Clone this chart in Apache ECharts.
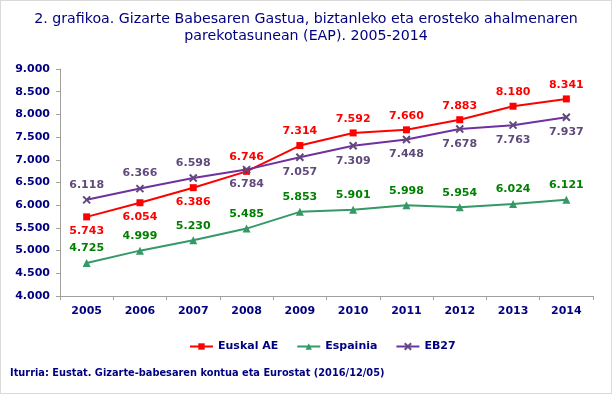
<!DOCTYPE html>
<html><head><meta charset="utf-8">
<script src="https://cdn.jsdelivr.net/npm/echarts@6/dist/echarts.min.js"></script>
<style>
html,body{margin:0;padding:0;background:#fff;}
#c{width:612px;height:394px;box-sizing:border-box;border:1px solid #d9d9d9;}
</style></head><body>
<div id="c"></div>
<script>
const years = ['2005','2006','2007','2008','2009','2010','2011','2012','2013','2014'];
const euskalAE = [5743, 6054, 6386, 6746, 7314, 7592, 7660, 7883, 8180, 8341];
const espainia = [4725, 4999, 5230, 5485, 5853, 5901, 5998, 5954, 6024, 6121];
const eb27 = [6118, 6366, 6598, 6784, 7057, 7309, 7448, 7678, 7763, 7937];
const yTicks = [4000, 4500, 5000, 5500, 6000, 6500, 7000, 7500, 8000, 8500, 9000];

const fmt = v => { const s = String(Math.round(v)); return s.length > 3 ? s.slice(0, s.length-3) + '.' + s.slice(-3) : s; };
const FONT = 'DejaVu Sans';
const navy = '#000080';

function lbl(posFn) {
  return (v, i) => ({ value: v, label: { position: posFn(i) } });
}
const ch = echarts.init(document.getElementById('c'));
ch.setOption({
  animation: false,
  title: {
    text: '2. grafikoa. Gizarte Babesaren Gastua, biztanleko eta erosteko ahalmenaren\nparekotasunean (EAP). 2005-2014',
    left: 'center', top: 5,
    textStyle: { fontFamily: FONT, fontSize: 14.2, fontWeight: 'normal', color: navy, lineHeight: 17 }
  },
  grid: { left: 59, right: 18, top: 68, bottom: 97 },
  legend: {
    bottom: 36, left: 183, itemGap: 18, itemWidth: 23, itemHeight: 8,
    textStyle: { fontFamily: FONT, fontSize: 11, fontWeight: 'bold', color: navy },
    data: ['Euskal AE', 'Espainia', 'EB27']
  },
  graphic: [{
    type: 'text', left: 9, top: 367,
    style: { text: 'Iturria: Eustat. Gizarte-babesaren kontua eta Eurostat (2016/12/05)', fontFamily: FONT, fontSize: 9.8, fontWeight: 'bold', fill: navy }
  }],
  xAxis: {
    type: 'category', data: years, boundaryGap: true,
    axisLine: { lineStyle: { color: '#a0a0a0' } },
    axisTick: { show: true, alignWithLabel: false, length: 4, lineStyle: { color: '#a0a0a0' } },
    axisLabel: { fontFamily: FONT, fontSize: 11, fontWeight: 'bold', color: navy, margin: 10 }
  },
  yAxis: {
    type: 'value', min: 4000, max: 9000, interval: 500,
    axisLine: { show: true, lineStyle: { color: '#a0a0a0' } },
    axisTick: { show: true, length: 4, lineStyle: { color: '#a0a0a0' } },
    splitLine: { show: false },
    axisLabel: { fontFamily: FONT, fontSize: 11, fontWeight: 'bold', color: navy, margin: 10, formatter: v => fmt(v) }
  },
  series: [
    {
      name: 'Euskal AE', type: 'line', data: euskalAE.map(lbl(i => i < 3 ? 'bottom' : 'top')),
      symbol: 'rect', symbolSize: 7, lineStyle: { color: '#ff0000', width: 2 }, itemStyle: { color: '#ff0000' },
      label: { show: true, distance: 5, fontFamily: FONT, fontSize: 11, fontWeight: 'bold', color: '#ff0000', formatter: p => fmt(p.value) }, z: 3
    },
    {
      name: 'Espainia', type: 'line', data: espainia,
      symbol: 'triangle', symbolSize: 8, lineStyle: { color: '#339966', width: 2 }, itemStyle: { color: '#339966' },
      label: { show: true, position: 'top', distance: 5, fontFamily: FONT, fontSize: 11, fontWeight: 'bold', color: '#008000', formatter: p => fmt(p.value) }
    },
    {
      name: 'EB27', type: 'line', data: eb27.map(lbl(i => i < 3 ? 'top' : 'bottom')),
      symbol: 'path://M-1,-1L1,1M1,-1L-1,1', symbolSize: 7, lineStyle: { color: '#7030a0', width: 2 },
      itemStyle: { color: '#604a7b', borderColor: '#604a7b', borderWidth: 2 },
      label: { show: true, distance: 5, fontFamily: FONT, fontSize: 11, fontWeight: 'bold', color: '#604a7b', formatter: p => fmt(p.value) }
    }
  ]
});
</script>
</body></html>
